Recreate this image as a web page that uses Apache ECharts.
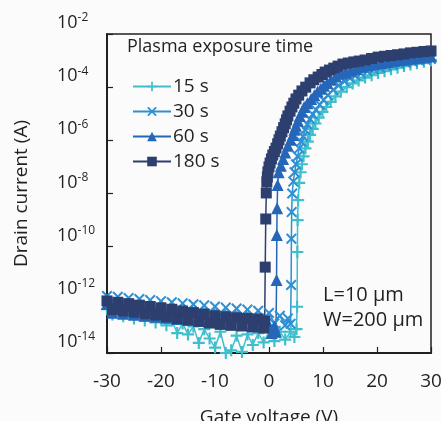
<!DOCTYPE html>
<html>
<head>
<meta charset="utf-8">
<script src="https://cdn.jsdelivr.net/npm/echarts@6/dist/echarts.min.js"></script>
<style>
  html, body { margin: 0; padding: 0; background: #fbfbfb; }
  #chart { width: 441px; height: 421px; }
</style>
</head>
<body>
<div id="chart"></div>
<script>
// gate voltage (V) and drain current (A) for each plasma exposure time
var v15 = [-30,-29,-28,-27,-26,-25,-24,-23,-22,-21,-20,-19,-18,-17,-16,-15,-14,-13,-12,-11,-10,-9,-8,-7,-6,-5,-4,-3,-2,-1,0,1,2,3,4,4.7,5.1,
  5.2,5.25,5.3,5.4,5.6,5.85,6.1,6.4,6.75,7.2,7.6,8.1,8.6,9.2,9.9,10.6,11.4,12.3,13.3,14.4,15.5,16.6,17.8,19,20.2,21.4,22.6,23.8,25,26.2,27.4,28.7,30];
var i15 = [4.5e-13,2.8e-13,3.8e-13,2.4e-13,3.2e-13,2.0e-13,2.75e-13,1.66e-13,2.3e-13,1.4e-13,
  2.0e-13,1.1e-13,1.66e-13,5.6e-14,1.3e-13,5.0e-14,1.0e-13,2.4e-14,7.9e-14,3.5e-14,
  1.6e-14,6.3e-14,1.0e-14,1.26e-14,4.5e-14,1.1e-14,5.0e-14,2.0e-14,5.6e-14,2.5e-14,
  6.3e-14,2.8e-14,6.3e-14,3.2e-14,6.3e-14,4.0e-14,7.9e-14,
  5.5e-13,6.3e-11,1.0e-9,5.6e-9,2.5e-8,6.3e-8,1.26e-7,2.5e-7,5.0e-7,8.9e-7,
  1.6e-6,2.7e-6,4.3e-6,7.1e-6,1.17e-5,1.8e-5,2.8e-5,4.5e-5,6.8e-5,1.0e-4,
  1.38e-4,1.8e-4,2.3e-4,2.8e-4,3.4e-4,4.0e-4,4.7e-4,5.4e-4,6.2e-4,7.1e-4,
  7.9e-4,9.1e-4,1.02e-3];

var v30 = [-30,-29,-28,-27,-26,-25,-24,-23,-22,-21,-20,-19,-18,-17,-16,-15,-14,-13,-12,-11,-10,-9,-8,-7,-6,-5,-4,-3,-2,-1,0,1,2,3,3.5,4.0,
  4.1,4.15,4.2,4.3,4.5,4.75,5.0,5.3,5.6,5.95,6.3,6.7,7.1,7.6,8.1,8.7,9.4,10.1,10.9,11.9,12.9,14,15,16,17,18.2,19.4,20.6,21.8,23,24.2,25.4,26.6,27.8,29,30];
var i30 = [1.4e-12,6.8e-13,1.3e-12,6.2e-13,1.17e-12,5.6e-13,1.07e-12,5.1e-13,9.8e-13,4.7e-13,
  8.9e-13,4.3e-13,8.1e-13,3.9e-13,7.4e-13,3.5e-13,6.8e-13,3.2e-13,6.2e-13,3.0e-13,
  5.6e-13,2.7e-13,5.1e-13,2.45e-13,4.7e-13,2.2e-13,4.3e-13,2.0e-13,3.9e-13,1.9e-13,
  3.2e-13,1.3e-13,2.5e-13,1.1e-13,2.0e-13,1.26e-13,
  3.6e-12,2.0e-10,2.0e-9,1.0e-8,2.8e-8,6.3e-8,1.26e-7,2.5e-7,5.0e-7,8.9e-7,
  1.4e-6,2.5e-6,4.0e-6,6.3e-6,9.5e-6,1.4e-5,2.2e-5,3.3e-5,5.0e-5,7.9e-5,
  1.15e-4,1.66e-4,2.2e-4,2.75e-4,3.3e-4,4.0e-4,4.7e-4,5.4e-4,6.2e-4,6.9e-4,
  7.6e-4,8.3e-4,9.1e-4,1.0e-3,1.07e-3,1.15e-3];

var v60 = [-30,-29,-28,-27,-26,-25,-24,-23,-22,-21,-20,-19,-18,-17,-16,-15,-14,-13,-12,-11,-10,-9,-8,-7,-6,-5,-4,-3,-2,-1,0,0.5,1.0,1.3,
  1.4,1.45,1.5,1.6,1.8,2.2,2.6,3.0,3.5,4.0,4.4,4.7,5.0,5.35,5.7,6.1,6.5,7.1,7.8,8.4,9,9.6,10.2,10.8,11.5,12.4,13.3,14.2,15.1,16.1,17.2,18.4,19.6,20.8,22,23.2,24.4,25.6,26.8,28,29,30];
var i60 = [6.9e-13,3.3e-13,6.3e-13,3.0e-13,5.8e-13,2.75e-13,5.2e-13,2.5e-13,4.8e-13,2.3e-13,
  4.4e-13,2.1e-13,4.0e-13,1.9e-13,3.6e-13,1.74e-13,3.3e-13,1.6e-13,3.0e-13,1.45e-13,
  2.75e-13,1.3e-13,2.5e-13,1.2e-13,2.3e-13,1.1e-13,2.1e-13,1.0e-13,1.9e-13,9.1e-14,
  1.1e-13,5.6e-14,1.0e-13,6.3e-14,
  5.6e-12,2.75e-10,2.8e-9,2.1e-8,6.3e-8,1.1e-7,2.0e-7,3.5e-7,6.3e-7,1.05e-6,
  1.6e-6,2.5e-6,3.5e-6,5.4e-6,8.3e-6,1.2e-5,1.8e-5,2.5e-5,3.6e-5,5.0e-5,
  6.8e-5,8.7e-5,1.12e-4,1.45e-4,1.9e-4,2.5e-4,3.2e-4,3.6e-4,4.2e-4,4.9e-4,
  5.8e-4,6.6e-4,7.4e-4,8.1e-4,8.9e-4,9.8e-4,1.05e-3,1.12e-3,1.2e-3,1.29e-3,
  1.38e-3,1.45e-3];

var v180 = [-30,-29,-28,-27,-26,-25,-24,-23,-22,-21,-20,-19,-18,-17,-16,-15,-14,-13,-12,-11,-10,-9,-8,-7,-6,-5,-4,-3,-2,-1,-0.8,
  -0.7,-0.6,-0.5,-0.4,-0.3,-0.2,0,0.2,0.45,0.7,1.0,1.3,1.6,1.85,2.1,2.4,2.7,3.0,3.25,3.5,3.9,4.25,4.6,5.0,5.5,6.1,6.8,7.6,8.3,9.1,
  9.8,10.4,11.2,12,12.8,13.7,14.7,15.7,16.7,17.8,19,20.2,21.4,22.6,23.8,25,26.2,27.4,28.7,30];
var i180 = [9.1e-13,4.3e-13,8.1e-13,3.8e-13,7.2e-13,3.4e-13,6.3e-13,3.0e-13,5.6e-13,2.7e-13,
  5.0e-13,2.3e-13,4.4e-13,2.0e-13,3.8e-13,1.8e-13,3.3e-13,1.55e-13,2.9e-13,1.35e-13,
  2.5e-13,1.2e-13,2.3e-13,1.1e-13,2.1e-13,1.05e-13,2.0e-13,9.8e-14,1.9e-13,8.9e-14,
  1.6e-13,
  1.7e-11,1.1e-9,1.05e-8,2.75e-8,4.2e-8,6.5e-8,1.0e-7,1.4e-7,2.0e-7,2.8e-7,
  3.8e-7,5.1e-7,7.4e-7,1.05e-6,1.45e-6,2.1e-6,3.0e-6,4.2e-6,5.9e-6,8.3e-6,
  1.25e-5,1.8e-5,2.5e-5,3.6e-5,5.0e-5,7.2e-5,1.0e-4,1.45e-4,1.9e-4,2.4e-4,
  3.0e-4,3.7e-4,4.4e-4,5.2e-4,6.2e-4,7.4e-4,8.1e-4,8.9e-4,9.6e-4,1.05e-3,
  1.2e-3,1.35e-3,1.45e-3,1.55e-3,1.66e-3,1.78e-3,1.95e-3,2.05e-3,2.2e-3,2.3e-3];

var seriesNames = ['15 s', '30 s', '60 s', '180 s'];
var yTicks = [1e-14, 1e-12, 1e-10, 1e-8, 1e-6, 1e-4, 1e-2];

var FONT = 'Open Sans';
var INK = '#231f20';
var plusPath = 'path://M4.1,0H5.9V4.1H10V5.9H5.9V10H4.1V5.9H0V4.1H4.1Z';
var crossPath = 'path://M0,1.3L1.3,0L5,3.7L8.7,0L10,1.3L6.3,5L10,8.7L8.7,10L5,6.3L1.3,10L0,8.7L3.7,5Z';

function pairs(xs, ys) {
  return xs.map(function (x, k) { return [x, ys[k]]; });
}

function makeSeries(name, xs, ys, color, symbol, size) {
  return {
    name: name,
    type: 'line',
    data: pairs(xs, ys),
    symbol: symbol,
    symbolSize: size,
    showAllSymbol: true,
    clip: false,
    color: color,
    itemStyle: { color: color },
    lineStyle: { color: color, width: 1.5 },
    emphasis: { disabled: true }
  };
}

var myChart = echarts.init(document.getElementById('chart'));
myChart.setOption({
  animation: false,
  backgroundColor: '#fbfbfb',
  textStyle: { fontFamily: FONT },
  grid: {
    left: 107, right: 10, top: 34, bottom: 68,
    outerBoundsMode: 'none',
    containLabel: false,
    show: true, borderColor: INK, borderWidth: 1.5, backgroundColor: 'transparent'
  },
  title: {
    text: 'Plasma exposure time',
    left: 122, top: 33,
    textStyle: { fontFamily: FONT, fontSize: 18, fontWeight: 'normal', color: INK }
  },
  legend: {
    orient: 'vertical',
    left: 127, top: 72,
    itemWidth: 38, itemHeight: 12, itemGap: 6,
    selectedMode: false,
    data: seriesNames,
    textStyle: { fontFamily: FONT, fontSize: 19, color: INK, padding: [0, 0, 0, -3] }
  },
  xAxis: {
    type: 'value',
    min: -30, max: 30, interval: 10,
    name: 'Gate voltage (V)',
    nameLocation: 'middle', nameGap: 55,
    nameTextStyle: { fontFamily: FONT, fontSize: 19, color: INK },
    axisLine: { onZero: false, lineStyle: { color: INK, width: 2 } },
    axisTick: { inside: true, length: 6, lineStyle: { color: INK, width: 1.2 } },
    axisLabel: { margin: 19, fontFamily: FONT, fontSize: 19, color: INK },
    splitLine: { show: false }
  },
  yAxis: {
    type: 'log',
    logBase: 10,
    min: 1e-14, max: 1e-2,
    name: 'Drain current (A)',
    nameLocation: 'middle', nameGap: 76,
    nameTextStyle: { fontFamily: FONT, fontSize: 19, color: INK },
    axisLine: { onZero: false, lineStyle: { color: INK, width: 2 } },
    axisTick: { inside: true, length: 6, customValues: yTicks, lineStyle: { color: INK, width: 1.2 } },
    axisLabel: {
      customValues: yTicks,
      align: 'left', margin: 50,
      padding: [0, 0, 22, 0],
      formatter: function (v) {
        return '{b|10}{s|' + Math.round(Math.log10(v)) + '}';
      },
      rich: {
        b: { fontFamily: FONT, fontSize: 18, lineHeight: 22, color: INK },
        s: { fontFamily: FONT, fontSize: 12, lineHeight: 12, verticalAlign: 'top', color: INK }
      }
    },
    splitLine: { show: false }
  },
  graphic: [
    { type: 'text', left: 323, top: 285, style: { text: 'L=10 µm', font: '20px "Open Sans"', fill: INK } },
    { type: 'text', left: 323, top: 310, style: { text: 'W=200 µm', font: '20px "Open Sans"', fill: INK } }
  ],
  series: [
    makeSeries('15 s', v15, i15, '#3fbfcc', plusPath, 12),
    makeSeries('30 s', v30, i30, '#2e8fd2', crossPath, 11),
    makeSeries('60 s', v60, i60, '#2566b8', 'triangle', 12),
    makeSeries('180 s', v180, i180, '#2d3f6e', 'rect', 11)
  ]
});
</script>
</body>
</html>
